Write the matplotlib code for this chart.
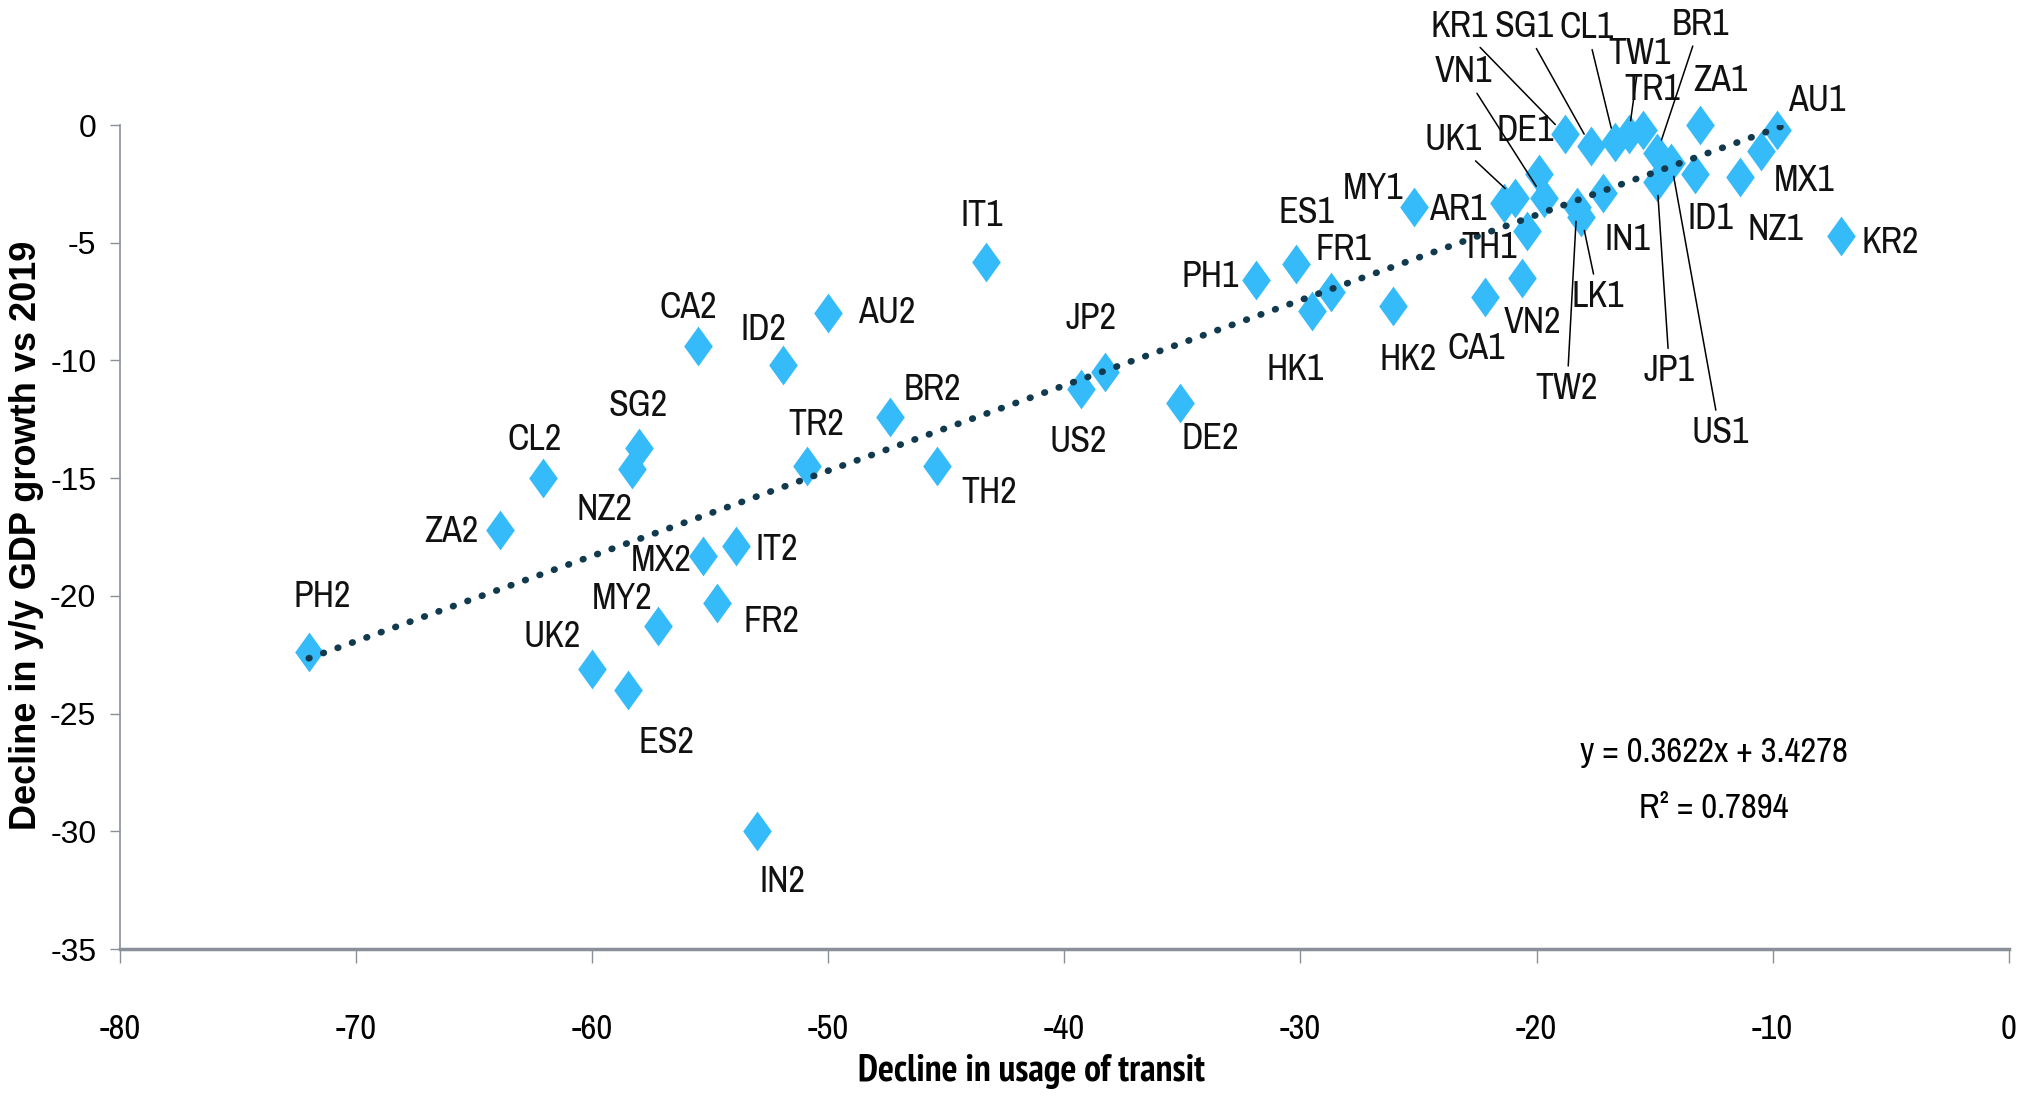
import matplotlib
matplotlib.use("Agg")
import matplotlib.pyplot as plt
from matplotlib import font_manager as fm
from matplotlib.path import Path

# country codes (1 = first period, 2 = second period)
codes = ['PH2', 'ZA2', 'CL2', 'SG2', 'NZ2', 'MX2', 'IT2', 'MY2', 'FR2', 'UK2',
         'ES2', 'IN2', 'TR2', 'CA2', 'ID2', 'AU2', 'IT1', 'BR2', 'TH2', 'JP2',
         'US2', 'DE2', 'PH1', 'ES1', 'FR1', 'HK1', 'HK2', 'MY1', 'AR1', 'UK1',
         'TH1', 'DE1', 'VN1', 'CA1', 'VN2', 'TW2', 'LK1', 'IN1', 'KR1', 'SG1',
         'CL1', 'TW1', 'TR1', 'BR1', 'ZA1', 'AU1', 'MX1', 'NZ1', 'ID1', 'US1',
         'JP1', 'KR2']
transit = [-72.0, -63.9, -62.1, -58.0, -58.3, -55.3, -53.9, -57.2, -54.7, -60.0,
           -58.5, -53.0, -50.9, -55.5, -51.9, -50.0, -43.3, -47.4, -45.4, -38.3,
           -39.3, -35.1, -31.9, -30.2, -28.7, -29.5, -26.1, -25.2, -21.4, -20.9,
           -20.4, -19.9, -19.7, -22.2, -20.6, -18.3, -18.1, -17.2, -18.8, -17.7,
           -16.7, -16.1, -15.5, -14.9, -13.1, -9.8, -10.5, -11.4, -13.3, -14.3,
           -14.9, -7.1]
gdp = [-22.4, -17.2, -15.0, -13.7, -14.6, -18.3, -17.9, -21.3, -20.3, -23.1,
       -24.0, -30.0, -14.5, -9.4, -10.2, -8.0, -5.8, -12.4, -14.5, -10.5,
       -11.2, -11.8, -6.6, -5.9, -7.1, -7.9, -7.7, -3.5, -3.3, -3.1,
       -4.5, -2.1, -3.1, -7.3, -6.5, -3.5, -3.9, -2.9, -0.4, -0.9,
       -0.7, -0.4, -0.2, -1.2, 0.0, -0.2, -1.1, -2.2, -2.1, -1.6,
       -2.4, -4.7]

slope, intercept, r2 = 0.3622, 3.4278, 0.7894
trend_end = -9.5

xticks = list(range(-80, 1, 10))
yticks = list(range(-35, 1, 5))

# label offsets in points (dx, dy); True = draw a leader line
offsets = {
    'PH2': (10, 40, False), 'ZA2': (-35, -1, False), 'CL2': (-6, 28, False),
    'SG2': (-1, 30, False), 'NZ2': (-20, -29, False), 'MX2': (-30, -3, False),
    'IT2': (29, -2, False), 'MY2': (-26, 20, False), 'FR2': (39, -13, False),
    'UK2': (-29, 23, False), 'ES2': (28, -38, False), 'IN2': (18, -36, False),
    'TR2': (7, 30, False), 'CA2': (-7, 28, False), 'ID2': (-14, 26, False),
    'AU2': (42, 1, False), 'IT1': (-3, 33, False), 'BR2': (31, 20, False),
    'TH2': (38, -19, False), 'JP2': (-10, 39, False), 'US2': (-2, -38, False),
    'DE2': (22, -26, False), 'PH1': (-33, 3, False), 'ES1': (8, 37, False),
    'FR1': (9, 31, False), 'HK1': (-12, -42, False), 'HK2': (11, -38, False),
    'MY1': (-29, 14, False), 'AR1': (-33, -5, False), 'UK1': (-45, 42, True),
    'TH1': (-27, -12, False), 'DE1': (-10, 32, False), 'VN1': (-58, 91, True),
    'CA1': (-6, -37, False), 'VN2': (7, -32, False), 'TW2': (-7, -130, True),
    'LK1': (12, -57, True), 'IN1': (18, -33, False), 'KR1': (-76, 78, True),
    'SG1': (-48, 86, True), 'CL1': (-20, 82, True), 'TW1': (8, 58, True),
    'TR1': (7, 29, False), 'BR1': (31, 93, True), 'ZA1': (15, 32, False),
    'AU1': (28, 21, False), 'MX1': (31, -21, False), 'NZ1': (26, -38, False),
    'ID1': (11, -32, False), 'US1': (35, -194, True), 'JP1': (9, -136, True),
    'KR2': (35, -5, False),
}


def pick_narrow(bold=False):
    # look for an installed narrow / condensed face, else plain Liberation Sans
    order = {'ultra-condensed': 0, 'extra-condensed': 1, 'condensed': 2,
             'semi-condensed': 3}
    best = None
    for f in fm.fontManager.ttflist:
        name = f.name.lower()
        w = f.weight if isinstance(f.weight, int) else (700 if 'bold' in str(f.weight) else 400)
        if bold != (w >= 600) or f.style != 'normal':
            continue
        if 'narrow' in name:
            rank = 1
        elif str(f.stretch) in order:
            rank = order[str(f.stretch)]
        elif 'condensed' in name:
            rank = 2
        else:
            continue
        if 'semi' in name or 'semicondensed' in f.fname.lower():
            rank = 3
        if best is None or rank < best[0]:
            best = (rank, f.fname)
    if best:
        return fm.FontProperties(fname=best[1]), True
    return fm.FontProperties(family='Liberation Sans',
                             weight='bold' if bold else 'normal'), False


fp, is_narrow = pick_narrow()
fpb, _ = pick_narrow(bold=True)
lab_size = 26 if is_narrow else 21

plt.rcParams['font.family'] = ['Liberation Sans', 'DejaVu Sans']
plt.rcParams['axes.unicode_minus'] = False

fig = plt.figure(figsize=(20.22, 10.96), dpi=100)
ax = fig.add_axes([0.0593, 0.1341, 0.9342, 0.7518])

# tall diamond marker
diamond = Path([(0, 1), (0.72, 0), (0, -1), (-0.72, 0), (0, 1)],
               [Path.MOVETO, Path.LINETO, Path.LINETO, Path.LINETO, Path.CLOSEPOLY])

ax.scatter(transit, gdp, marker=diamond, s=820, color='#35BBFA', linewidths=0,
           zorder=3, clip_on=False)

tx = [min(transit), trend_end]
ty = [slope * v + intercept for v in tx]
ax.plot(tx, ty, color='#123A4E', linewidth=4.8, linestyle=(0, (0.1, 2.2)),
        dash_capstyle='round', zorder=4)

for c, x, y in zip(codes, transit, gdp):
    dx, dy, lead = offsets[c]
    props = None
    if lead:
        props = dict(arrowstyle='-', color='black', lw=1.1, shrinkA=2, shrinkB=10)
    t = ax.annotate(c, (x, y), xytext=(dx, dy), textcoords='offset points',
                    ha='center', va='center', color='#111111',
                    arrowprops=props, zorder=5)
    t.set_fontproperties(fp)
    t.set_fontsize(lab_size)

for txt, yy in [('y = %.4fx + %.4f' % (slope, intercept), 0.239),
                ('R² = %.4f' % r2, 0.171)]:
    t = ax.text(0.844, yy, txt, transform=ax.transAxes, ha='center', va='center')
    t.set_fontproperties(fp)
    t.set_fontsize(lab_size - 1)

ax.set_xlim(-80, 0)
ax.set_ylim(-35, 0)
ax.set_xticks(xticks)
ax.set_yticks(yticks)
ax.tick_params(axis='x', direction='out', length=10, width=1, color='#8A9099',
               pad=36)
ax.tick_params(axis='y', direction='out', length=7, width=1, color='#8A9099',
               pad=10)
for lbl in ax.get_xticklabels():
    lbl.set_fontproperties(fp)
    lbl.set_fontsize(lab_size - 1)
for lbl in ax.get_yticklabels():
    lbl.set_fontsize(23)

for s in ['top', 'right']:
    ax.spines[s].set_visible(False)
ax.spines['left'].set_color('#8A9099')
ax.spines['left'].set_linewidth(1.2)
ax.spines['bottom'].set_color('#8A9099')
ax.spines['bottom'].set_linewidth(2.5)

fig.text(0.0129, 0.512, 'Decline in y/y GDP growth vs 2019', rotation=90,
         ha='center', va='center', fontsize=26, fontweight='bold')
xl = fig.text(0.510, 0.022, 'Decline in usage of transit', ha='center', va='center')
xl.set_fontproperties(fpb)
xl.set_fontsize(lab_size + 1)

fig.savefig('out.png', dpi=100)
